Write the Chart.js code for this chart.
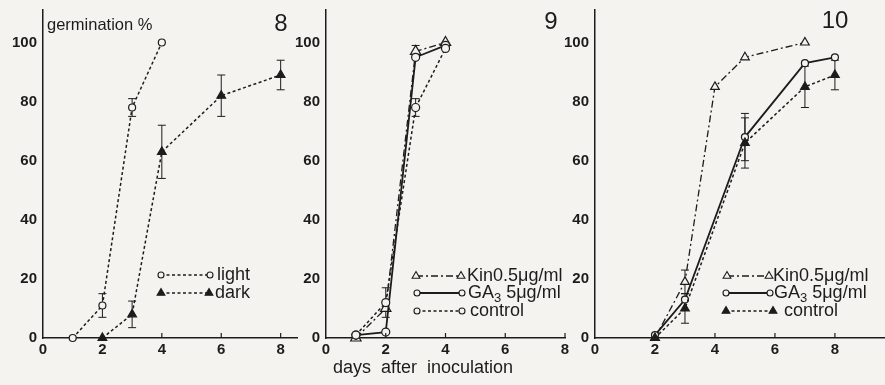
<!DOCTYPE html>
<html>
<head>
<meta charset="utf-8">
<script src="https://cdn.jsdelivr.net/npm/chart.js@4.4.0/dist/chart.umd.min.js"></script>
<style>
body { margin: 0; background: #f4f3ef; }
#wrap { position: relative; width: 885px; height: 385px; overflow: hidden; }
canvas { position: absolute; top: 0; }
</style>
</head>
<body>
<div id="wrap">
<canvas id="c8" style="left:0px" width="300" height="385"></canvas>
<canvas id="c9" style="left:290px" width="280" height="385"></canvas>
<canvas id="c10" style="left:555px" width="330" height="385"></canvas>
</div>
<script>
// fig 8 - light / dark
var days8Light = [1, 2, 3, 4]
var light8 = [0, 11, 78, 100]
var light8Err = [0, 4, 3, 0]
var days8Dark = [2, 3, 4, 6, 8]
var dark8 = [0, 8, 63, 82, 89]
var dark8Err = [0, 4.5, 9, 7, 5]

// fig 9 - in light
var days9 = [1, 2, 3, 4]
var kin9 = [0, 10, 97, 100]
var kin9Err = [0, 0, 2, 0]
var ga9 = [1, 2, 95, 99]
var ga9Err = [0, 0, 0, 0]
var control9 = [1, 12, 78, 98]
var control9Err = [0, 5, 3, 0]

// fig 10 - in dark
var days10Kin = [2, 3, 4, 5, 7]
var kin10 = [0, 19, 85, 95, 100]
var kin10Err = [0, 4, 0, 0, 0]
var days10 = [2, 3, 5, 7, 8]
var ga10 = [1, 13, 68, 93, 95]
var ga10Err = [0, 0, 8, 0, 0]
var control10 = [0, 10, 66, 85, 89]
var control10Err = [0, 5, 8.5, 7, 5]

var xTicks = [0, 2, 4, 6, 8]
var yTicks = [0, 20, 40, 60, 80, 100]

var ink = '#1c1c1c'
var paper = '#f4f3ef'
var fam = '"Liberation Sans", Arial, sans-serif'

var dotted = { borderDash: [3, 2.5], borderWidth: 1.5 }
var dashdot = { borderDash: [7, 3, 2, 3], borderWidth: 1.3 }
var solid = { borderDash: [], borderWidth: 1.8 }

function pts(xs, ys) {
    return xs.map(function (x, i) { return { x: x, y: ys[i] } })
}

function series(xs, ys, errs, line, mk) {
    return Object.assign({
        data: pts(xs, ys),
        err: errs,
        borderColor: ink,
        pointBorderColor: ink,
        pointBorderWidth: 1.2,
        pointStyle: mk.style,
        pointRadius: mk.r,
        pointBackgroundColor: mk.fill ? ink : paper,
        tension: 0,
        fill: false,
        clip: false
    }, line)
}

var figPlugin = {
    id: 'fig',
    beforeDatasetsDraw: function (chart) {
        let ctx = chart.ctx
        let xs = chart.scales.x, ys = chart.scales.y
        ctx.save()
        ctx.strokeStyle = ink
        ctx.lineWidth = 1
        ctx.setLineDash([])
        chart.data.datasets.forEach(function (ds) {
            ds.data.forEach(function (p, i) {
                let e = ds.err[i]
                if (!e) return
                let x = xs.getPixelForValue(p.x)
                let y1 = ys.getPixelForValue(p.y - e)
                let y2 = ys.getPixelForValue(p.y + e)
                ctx.beginPath()
                ctx.moveTo(x, y1); ctx.lineTo(x, y2)
                ctx.moveTo(x - 4, y1); ctx.lineTo(x + 4, y1)
                ctx.moveTo(x - 4, y2); ctx.lineTo(x + 4, y2)
                ctx.stroke()
            })
        })
        ctx.restore()
    },
    afterDraw: function (chart, args, opts) {
        let ctx = chart.ctx
        let xs = chart.scales.x
        let base = chart.chartArea.bottom
        ctx.save()
        // small ticks pointing inwards
        ctx.strokeStyle = ink
        ctx.lineWidth = 1.2
        xTicks.forEach(function (v) {
            if (v == 0) return
            let x = xs.getPixelForValue(v)
            ctx.beginPath(); ctx.moveTo(x, base); ctx.lineTo(x, base - 5); ctx.stroke()
        })
        // legend
        ;(opts.legend || []).forEach(function (it) {
            ctx.strokeStyle = ink
            ctx.lineWidth = it.line.borderWidth
            ctx.setLineDash(it.line.borderDash)
            ctx.beginPath(); ctx.moveTo(it.x1, it.y); ctx.lineTo(it.x2, it.y); ctx.stroke()
            ctx.setLineDash([])
            ctx.lineWidth = 1.1
            ctx.fillStyle = it.mk.fill ? ink : paper
            let o = { pointStyle: it.mk.style, radius: it.mk.lr, borderWidth: 1.1, rotation: 0 }
            Chart.helpers.drawPoint(ctx, o, it.x1, it.y)
            Chart.helpers.drawPoint(ctx, o, it.x2, it.y)
            let tx = it.tx
            ctx.fillStyle = ink
            ctx.textBaseline = 'middle'
            ctx.textAlign = 'left'
            it.text.forEach(function (seg) {
                ctx.font = seg[2] + 'px ' + fam
                ctx.fillText(seg[0], tx, it.y + seg[1])
                tx += ctx.measureText(seg[0]).width
            })
        })
        // labels
        ;(opts.texts || []).forEach(function (t) {
            ctx.fillStyle = ink
            ctx.font = t.size + 'px ' + fam
            ctx.textAlign = t.align
            ctx.textBaseline = 'middle'
            ctx.fillText(t.text, t.x, t.y)
        })
        ctx.restore()
    }
}

function makeChart(id, datasets, xMax, yWidth, padRight, fig) {
    return new Chart(document.getElementById(id), {
        type: 'line',
        data: { datasets: datasets },
        plugins: [figPlugin],
        options: {
            responsive: false,
            animation: false,
            layout: { autoPadding: false, padding: { top: 10, right: padRight, left: 0, bottom: 0 } },
            plugins: { legend: { display: false }, tooltip: { enabled: false }, fig: fig },
            scales: {
                x: {
                    type: 'linear', min: 0, max: xMax,
                    afterBuildTicks: function (s) { s.ticks = xTicks.map(function (v) { return { value: v } }) },
                    afterFit: function (s) { s.height = 47; s.paddingLeft = 0; s.paddingRight = 0 },
                    grid: { display: false, drawTicks: false },
                    border: { color: ink, width: 1.5 },
                    ticks: { color: ink, padding: 3, font: { family: fam, size: 15, weight: 'bold' }, maxRotation: 0 }
                },
                y: {
                    min: 0, max: 111,
                    afterBuildTicks: function (s) { s.ticks = yTicks.map(function (v) { return { value: v } }) },
                    afterFit: function (s) { s.width = yWidth; s.paddingTop = 0; s.paddingBottom = 0 },
                    grid: { display: false, drawTicks: false },
                    border: { color: ink, width: 1.5 },
                    ticks: { color: ink, padding: 6, font: { family: fam, size: 15, weight: 'bold' } }
                }
            }
        }
    })
}

var openCircle = { style: 'circle', r: 3.5, lr: 3, fill: false }
var bigCircle = { style: 'circle', r: 4, lr: 3, fill: false }
var filledTri = { style: 'triangle', r: 5, lr: 4.5, fill: true }
var openTri = { style: 'triangle', r: 6, lr: 4.5, fill: false }
var openTri10 = { style: 'triangle', r: 5, lr: 4.5, fill: false }

makeChart('c8', [
    series(days8Light, light8, light8Err, dotted, openCircle),
    series(days8Dark, dark8, dark8Err, dotted, filledTri)
], 8.55, 43, 3, {
    legend: [
        { x1: 161, x2: 210, y: 275, tx: 217, line: dotted, mk: openCircle, text: [['light', 0, 18]] },
        { x1: 161, x2: 209, y: 293, tx: 215, line: dotted, mk: filledTri, text: [['dark', 0, 18]] }
    ],
    texts: [
        { text: 'germination %', x: 47, y: 25, size: 16.5, align: 'left' },
        { text: '8', x: 281, y: 24, size: 24, align: 'center' }
    ]
})

makeChart('c9', [
    series(days9, control9, control9Err, dotted, bigCircle),
    series(days9, ga9, ga9Err, solid, bigCircle),
    series(days9, kin9, kin9Err, dashdot, openTri)
], 8, 36, 5, {
    legend: [
        { x1: 126, x2: 171, y: 276, tx: 177, line: dashdot, mk: openTri, text: [['Kin0.5μg/ml', 0, 18]] },
        { x1: 127, x2: 172, y: 293, tx: 178, line: solid, mk: openCircle, text: [['GA', 0, 18], ['3', 5, 13], [' 5μg/ml', 0, 18]] },
        { x1: 127, x2: 172, y: 311, tx: 180, line: dotted, mk: openCircle, text: [['control', 0, 18]] }
    ],
    texts: [
        { text: '9', x: 261, y: 22, size: 24, align: 'center' },
        { text: 'days  after  inoculation', x: 43, y: 368, size: 18, align: 'left' }
    ]
})

makeChart('c10', [
    series(days10, control10, control10Err, dotted, filledTri),
    series(days10, ga10, ga10Err, solid, openCircle),
    series(days10Kin, kin10, kin10Err, dashdot, openTri10)
], 9.67, 40, 0, {
    legend: [
        { x1: 172, x2: 214, y: 276, tx: 218, line: dashdot, mk: openTri10, text: [['Kin0.5μg/ml', 0, 18]] },
        { x1: 171, x2: 215, y: 293, tx: 219, line: solid, mk: openCircle, text: [['GA', 0, 18], ['3', 5, 13], [' 5μg/ml', 0, 18]] },
        { x1: 171, x2: 218, y: 311, tx: 229, line: dotted, mk: filledTri, text: [['control', 0, 18]] }
    ],
    texts: [
        { text: '10', x: 280, y: 21, size: 24, align: 'center' }
    ]
})
</script>
</body>
</html>
